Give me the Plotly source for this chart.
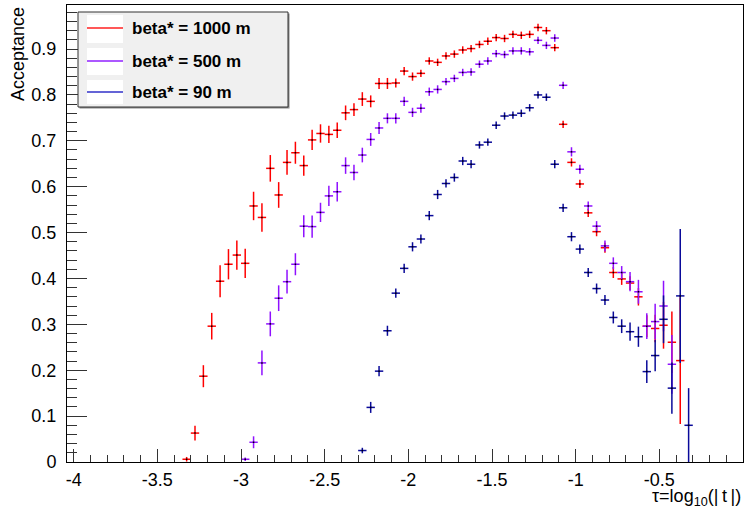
import plotly.graph_objects as go

# ---------------- data ----------------
tau_1000 = [-3.325, -3.275, -3.225, -3.175, -3.125, -3.075, -3.025, -2.975, -2.925, -2.875,
            -2.825, -2.775, -2.725, -2.675, -2.625, -2.575, -2.525, -2.475, -2.425, -2.375,
            -2.325, -2.275, -2.225, -2.175, -2.125, -2.075, -2.025, -1.975, -1.925, -1.875,
            -1.825, -1.775, -1.725, -1.675, -1.625, -1.575, -1.525, -1.475, -1.425, -1.375,
            -1.325, -1.275, -1.225, -1.175, -1.125, -1.075, -1.025, -0.975, -0.925, -0.875,
            -0.825, -0.775, -0.725, -0.675, -0.625, -0.575, -0.525, -0.475, -0.425, -0.375]
acc_1000 = [0.006, 0.063, 0.187, 0.296, 0.394, 0.431, 0.451, 0.433, 0.558, 0.533,
            0.640, 0.582, 0.653, 0.674, 0.646, 0.702, 0.716, 0.714, 0.723, 0.761,
            0.768, 0.791, 0.786, 0.825, 0.825, 0.826, 0.852, 0.840, 0.847, 0.874,
            0.871, 0.885, 0.889, 0.898, 0.901, 0.910, 0.917, 0.925, 0.923, 0.932,
            0.930, 0.932, 0.947, 0.940, 0.903, 0.736, 0.653, 0.606, 0.543, 0.502,
            0.467, 0.413, 0.399, 0.390, 0.360, 0.296, 0.291, 0.298, 0.261, 0.221]
err_1000 = [0.005, 0.016, 0.024, 0.029, 0.035, 0.033, 0.032, 0.032, 0.031, 0.031,
            0.029, 0.028, 0.027, 0.024, 0.022, 0.022, 0.020, 0.019, 0.017, 0.016,
            0.014, 0.015, 0.013, 0.012, 0.012, 0.010, 0.009, 0.009, 0.008, 0.008,
            0.008, 0.008, 0.008, 0.008, 0.008, 0.008, 0.008, 0.008, 0.008, 0.008,
            0.008, 0.008, 0.008, 0.008, 0.008, 0.008, 0.009, 0.009, 0.009, 0.010,
            0.011, 0.012, 0.013, 0.015, 0.019, 0.024, 0.030, 0.051, 0.067, 0.138]

tau_500 = [-2.975, -2.925, -2.875, -2.825, -2.775, -2.725, -2.675, -2.625, -2.575, -2.525,
           -2.475, -2.425, -2.375, -2.325, -2.275, -2.225, -2.175, -2.125, -2.075, -2.025,
           -1.975, -1.925, -1.875, -1.825, -1.775, -1.725, -1.675, -1.625, -1.575, -1.525,
           -1.475, -1.425, -1.375, -1.325, -1.275, -1.225, -1.175, -1.125, -1.075, -1.025,
           -0.975, -0.925, -0.875, -0.825, -0.775, -0.725, -0.675, -0.625, -0.575, -0.525,
           -0.475, -0.425]
acc_500 = [0.006, 0.043, 0.216, 0.301, 0.357, 0.393, 0.431, 0.514, 0.513, 0.544,
           0.580, 0.589, 0.646, 0.631, 0.669, 0.703, 0.728, 0.749, 0.749, 0.786,
           0.762, 0.771, 0.807, 0.812, 0.829, 0.836, 0.849, 0.850, 0.867, 0.874,
           0.890, 0.888, 0.896, 0.896, 0.894, 0.919, 0.908, 0.924, 0.821, 0.676,
           0.638, 0.558, 0.514, 0.471, 0.433, 0.413, 0.393, 0.371, 0.296, 0.306,
           0.340, 0.213]
err_500 = [0.004, 0.013, 0.027, 0.027, 0.028, 0.026, 0.024, 0.024, 0.024, 0.021,
           0.022, 0.021, 0.018, 0.017, 0.016, 0.014, 0.013, 0.011, 0.011, 0.010,
           0.010, 0.010, 0.009, 0.009, 0.008, 0.008, 0.008, 0.008, 0.008, 0.008,
           0.008, 0.008, 0.008, 0.008, 0.008, 0.008, 0.008, 0.008, 0.008, 0.010,
           0.010, 0.010, 0.011, 0.012, 0.013, 0.014, 0.021, 0.026, 0.028, 0.039,
           0.055, 0.064]

tau_90 = [-2.275, -2.225, -2.175, -2.125, -2.075, -2.025, -1.975, -1.925, -1.875, -1.825,
          -1.775, -1.725, -1.675, -1.625, -1.575, -1.525, -1.475, -1.425, -1.375, -1.325,
          -1.275, -1.225, -1.175, -1.125, -1.075, -1.025, -0.975, -0.925, -0.875, -0.825,
          -0.775, -0.725, -0.675, -0.625, -0.575, -0.525, -0.475, -0.425, -0.375, -0.325]
acc_90 = [0.025, 0.119, 0.198, 0.286, 0.368, 0.422, 0.469, 0.486, 0.537, 0.583,
          0.607, 0.620, 0.656, 0.649, 0.691, 0.697, 0.734, 0.754, 0.756, 0.760,
          0.772, 0.800, 0.795, 0.649, 0.554, 0.491, 0.464, 0.413, 0.378, 0.353,
          0.315, 0.296, 0.284, 0.273, 0.197, 0.232, 0.311, 0.161, 0.362, 0.080]
err_90 = [0.006, 0.012, 0.011, 0.011, 0.010, 0.010, 0.010, 0.010, 0.010, 0.010,
          0.009, 0.009, 0.009, 0.009, 0.008, 0.008, 0.008, 0.008, 0.008, 0.008,
          0.008, 0.008, 0.008, 0.009, 0.009, 0.010, 0.010, 0.010, 0.011, 0.011,
          0.013, 0.015, 0.020, 0.022, 0.025, 0.034, 0.052, 0.056, 0.146, 0.081]

bin_half_width = 0.025

series_names = ["beta* = 1000 m", "beta* = 500 m", "beta* = 90 m"]
series_colors = ["#ff0000", "#8f10ff", "#0a0a9a"]
legend_line_colors = ["#ff2020", "#9020ff", "#3030c8"]

x_tick_vals = [-4, -3.5, -3, -2.5, -2, -1.5, -1, -0.5, 0]
x_tick_text = ["-4", "-3.5", "-3", "-2.5", "-2", "-1.5", "-1", "-0.5", "0"]
y_tick_vals = [0, 0.1, 0.2, 0.3, 0.4, 0.5, 0.6, 0.7, 0.8, 0.9]
y_tick_text = ["0", "0.1", "0.2", "0.3", "0.4", "0.5", "0.6", "0.7", "0.8", "0.9"]

# ---------------- figure ----------------
FONT = "Liberation Sans, Arial, Helvetica, sans-serif"
W, H = 746, 510
ML, MR, MT, MB = 67, 3, 5, 48
PW, PH = W - ML - MR, H - MT - MB

fig = go.Figure()
for xs, ys, es, name, col in zip([tau_1000, tau_500, tau_90],
                                 [acc_1000, acc_500, acc_90],
                                 [err_1000, err_500, err_90],
                                 series_names, series_colors):
    fig.add_trace(go.Scatter(
        x=xs, y=ys, mode="markers", name=name, showlegend=False,
        marker=dict(symbol="square", size=1.5, color="#000000", line=dict(width=0)),
        error_x=dict(type="constant", value=bin_half_width, width=0, thickness=1.5, color=col),
        error_y=dict(type="data", array=es, width=0, thickness=1.5, color=col),
        cliponaxis=True,
    ))


def px2x(px):
    return (px - ML) / PW


def py2y(py):
    return (H - MB - py) / PH


shapes = []
annotations = []
# legend box (manual, mimicking the ROOT TLegend)
shapes.append(dict(type="rect", xref="paper", yref="paper",
                   x0=px2x(79.5), x1=px2x(289.5), y0=py2y(108.5), y1=py2y(13.5),
                   fillcolor="#888888", line=dict(width=0), layer="above"))
shapes.append(dict(type="rect", xref="paper", yref="paper",
                   x0=px2x(78), x1=px2x(288), y0=py2y(107), y1=py2y(12),
                   fillcolor="#f0f0f0", line=dict(color="#333333", width=1), layer="above"))
rows = [(15, 43, 28), (48, 75, 61), (80, 104, 92)]
for (top, bot, cy), name, col in zip(rows, series_names, legend_line_colors):
    shapes.append(dict(type="rect", xref="paper", yref="paper",
                       x0=px2x(87), x1=px2x(123), y0=py2y(bot), y1=py2y(top),
                       fillcolor="#ffffff", line=dict(width=0), layer="above"))
    shapes.append(dict(type="line", xref="paper", yref="paper",
                       x0=px2x(87), x1=px2x(123), y0=py2y(cy), y1=py2y(cy),
                       line=dict(color=col, width=1.5), layer="above"))
    annotations.append(dict(xref="paper", yref="paper", x=px2x(130), y=py2y(cy + 0.5),
                            xanchor="left", yanchor="middle", showarrow=False,
                            text="<b>%s</b>" % name,
                            font=dict(family=FONT, size=17, color="#000000")))

# axis titles
annotations.append(dict(xref="paper", yref="paper", x=1.0, y=py2y(498),
                        xanchor="right", yanchor="middle", showarrow=False,
                        text="τ=log<sub>10</sub>(|\u2009t\u2009|)",
                        font=dict(family=FONT, size=18, color="#000000")))
annotations.append(dict(xref="paper", yref="paper", x=px2x(18), y=1.0,
                        xanchor="center", yanchor="top", showarrow=False, textangle=-90,
                        text="Acceptance",
                        font=dict(family=FONT, size=18, color="#000000")))

fig.update_layout(
    width=W, height=H,
    margin=dict(l=ML, r=MR, t=MT, b=MB, pad=0, autoexpand=False),
    paper_bgcolor="#ffffff", plot_bgcolor="#ffffff",
    font=dict(family=FONT, size=18, color="#000000"),
    shapes=shapes, annotations=annotations,
    showlegend=False,
)
fig.update_xaxes(
    range=[-4.04, 0], showgrid=False, zeroline=False, automargin=False,
    showline=True, mirror=True, linecolor="#000000", linewidth=1,
    tickmode="array", tickvals=x_tick_vals, ticktext=x_tick_text,
    ticks="inside", ticklen=13, tickcolor="#333333", tickwidth=1,
    minor=dict(tickmode="linear", tick0=0, dtick=0.1, ticks="inside", ticklen=7,
               tickcolor="#333333", tickwidth=1, showgrid=False),
    tickfont=dict(family=FONT, size=18, color="#000000"),
    ticklabelstandoff=1,
)
fig.update_yaxes(
    range=[0, 0.996], showgrid=False, zeroline=False, automargin=False,
    showline=True, mirror=True, linecolor="#000000", linewidth=1,
    tickmode="array", tickvals=y_tick_vals, ticktext=y_tick_text,
    ticks="inside", ticklen=20, tickcolor="#333333", tickwidth=1,
    minor=dict(tickmode="linear", tick0=0, dtick=0.02, ticks="inside", ticklen=10,
               tickcolor="#333333", tickwidth=1, showgrid=False),
    tickfont=dict(family=FONT, size=18, color="#000000"),
    ticklabelstandoff=6,
)

fig.write_html(
    "out.html",
    config={"displayModeBar": False},
    post_script="document.body.style.margin='0';document.body.style.overflow='hidden';",
)
